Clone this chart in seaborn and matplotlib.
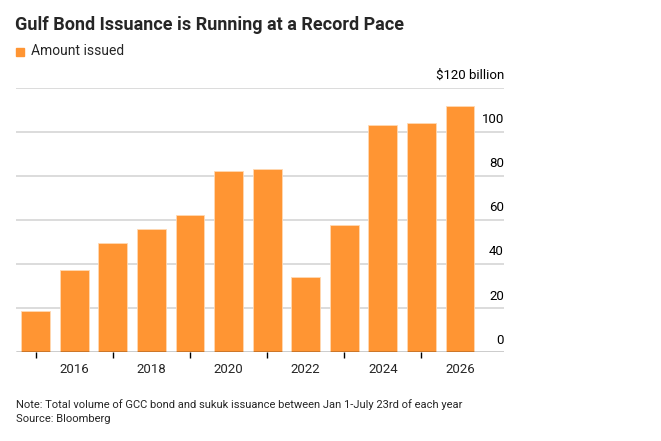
import numpy as np
import pandas as pd
import seaborn as sns
import matplotlib.pyplot as plt
from matplotlib.ticker import FixedLocator
from matplotlib.patches import Rectangle

years = [2015, 2016, 2017, 2018, 2019, 2020, 2021, 2022, 2023, 2024, 2025, 2026]
amount = [18.7, 37.2, 49.7, 56.2, 62.3, 82.2, 83.0, 34.3, 57.9, 103.1, 104.3, 112.0]
y_ticks = [0, 20, 40, 60, 80, 100, 120]
y_labels = ["0", "20", "40", "60", "80", "100", "$120 billion"]

orange = "#ff9533"
grid_gray = "#d9d9d9"

sns.set_style("white")
plt.rcParams["font.family"] = ["Roboto", "DejaVu Sans"]

df = pd.DataFrame({"year": years, "amount": amount})

fig = plt.figure(figsize=(6.61, 4.41), dpi=100)
ax = fig.add_axes([16 / 661, 1 - 352.3 / 441, 488 / 661, (352.3 - 88) / 441])

sns.barplot(df, x="year", y="amount", color=orange, saturation=1, width=0.75,
            edgecolor="#ffd9b3", linewidth=0.6, ax=ax, zorder=3)

ax.set_xlim(-0.51, len(years) - 1 + 1.14)
ax.set_ylim(0, 120)

# gridlines with their labels sitting above them at the right end
for v, lab in zip(y_ticks, y_labels):
    if v == 0:
        ax.axhline(v, color="black", lw=1.0, zorder=4)
    else:
        ax.axhline(v, color=grid_gray, lw=1.3, zorder=1)
    ax.text(ax.get_xlim()[1], v + 2.6, lab, ha="right", va="bottom",
            fontsize=9.5, color="black")
ax.set_yticks([])

# year labels on even years, short tick marks on odd years
idx = list(range(len(years)))
ax.xaxis.set_major_locator(FixedLocator([i for i in idx if years[i] % 2 == 0]))
ax.set_xticklabels([str(years[i]) for i in idx if years[i] % 2 == 0], fontsize=9.5)
ax.xaxis.set_minor_locator(FixedLocator([i for i in idx if years[i] % 2 == 1]))
ax.tick_params(axis="x", which="major", length=0, pad=8)
ax.tick_params(axis="x", which="minor", length=4, width=1, color="black", bottom=True)
ax.set_xlabel("")
ax.set_ylabel("")
for s in ax.spines.values():
    s.set_visible(False)

fig.text(15 / 661, 1 - 25 / 441, "Gulf Bond Issuance is Running at a Record Pace",
         fontsize=13, fontweight="bold", va="center", ha="left")
fig.patches.append(Rectangle((16 / 661, 1 - 56 / 441), 8 / 661, 8 / 441,
                             transform=fig.transFigure, color=orange))
fig.text(31 / 661, 1 - 51 / 441, "Amount issued", fontsize=10, va="center", ha="left")
fig.text(16 / 661, 1 - 405 / 441,
         "Note: Total volume of GCC bond and sukuk issuance between Jan 1-July 23rd of each year",
         fontsize=8, va="center", ha="left")
fig.text(16 / 661, 1 - 419 / 441, "Source: Bloomberg", fontsize=8, va="center", ha="left")

fig.savefig("out.png", dpi=100)
